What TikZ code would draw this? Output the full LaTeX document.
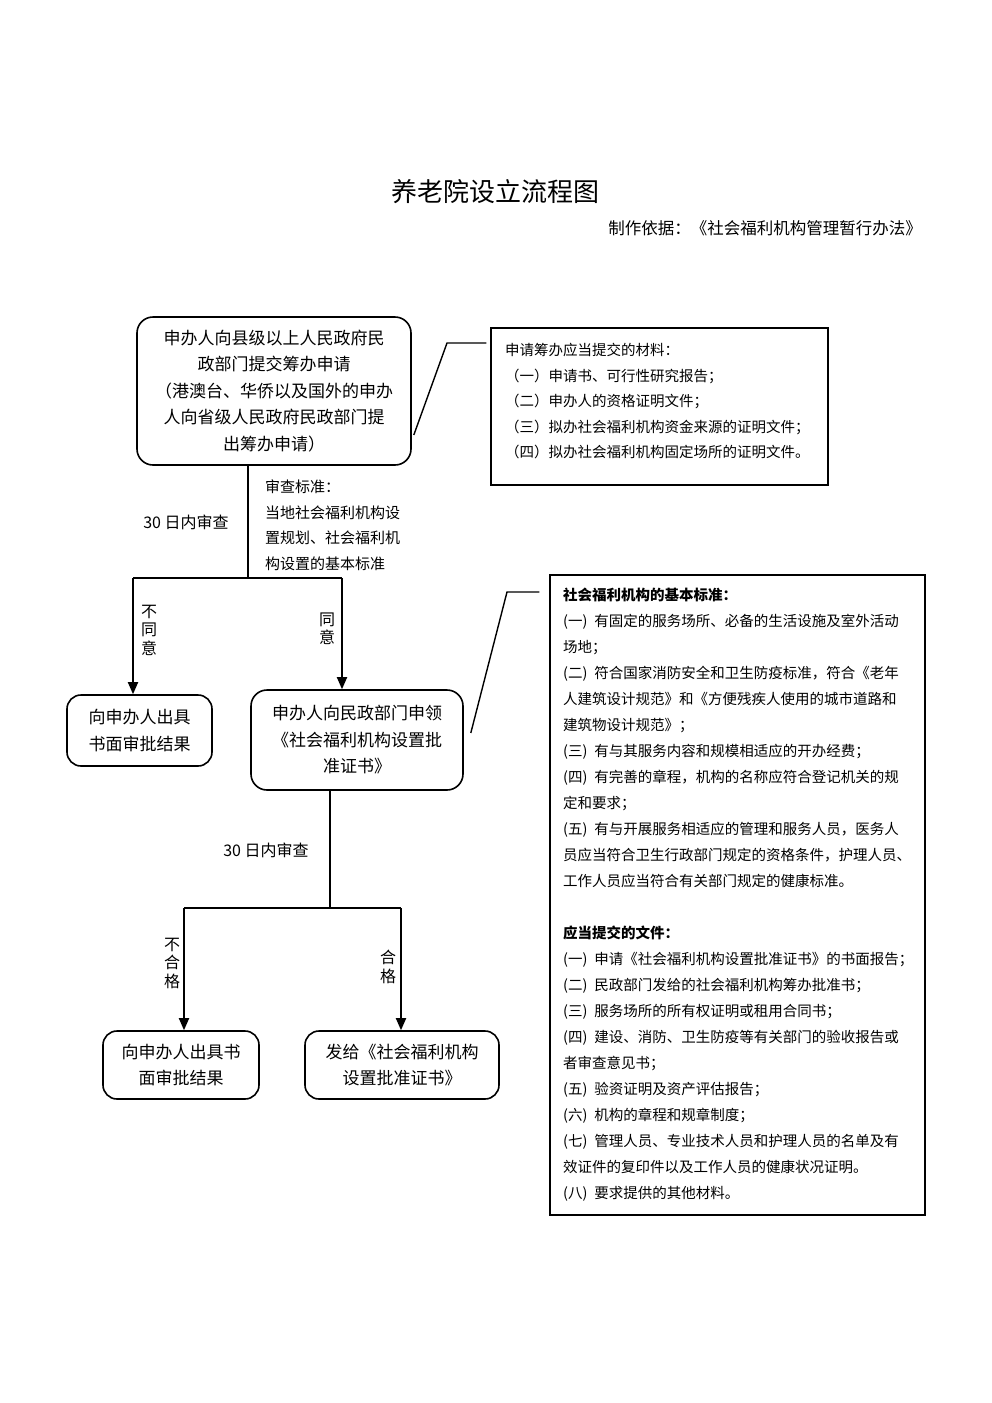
\documentclass[tikz,border=0pt]{standalone}
\usepackage{fontspec}
\setmainfont{Noto Sans CJK SC}
\usetikzlibrary{arrows.meta}
\newcommand\itm[1]{(#1)\hspace{7pt}}
\begin{document}
\begin{tikzpicture}[x=1pt,y=-1pt,
  flow/.style={line width=1.8pt},
  arr/.style={line width=1.8pt,-{Triangle[length=12pt,width=10pt]}},
  link/.style={line width=1.4pt},
  rbox/.style={draw,line width=1.6pt,rounded corners=16pt,inner sep=0pt,align=center,font=\fontsize{17}{26.5}\selectfont},
  pbox/.style={draw,line width=1.4pt,inner sep=0pt},
  txt/.style={inner sep=0pt,align=left,anchor=north west},
  vlab/.style={inner sep=0pt,align=center,font=\fontsize{16}{18.5}\selectfont},
  dlab/.style={inner sep=0pt,font=\fontsize{16}{20}\selectfont}
]
\useasboundingbox[fill=white] (0,0) rectangle (992,1403);

% title
\node[font=\fontsize{26}{30}\selectfont] (title) at (495,192) {养老院设立流程图};
\node[font=\fontsize{16.5}{20}\selectfont,anchor=east,inner sep=0pt] (sub) at (922,228) {制作依据：《社会福利机构管理暂行办法》};

% boxes
\node[rbox,minimum width=274pt,minimum height=148pt] (b1) at (274,391)
  {申办人向县级以上人民政府民\\政部门提交筹办申请\\（港澳台、华侨以及国外的申办\\人向省级人民政府民政部门提\\出筹办申请）};

\node[pbox,minimum width=337pt,minimum height=157pt] (b2) at (659.5,406.5) {};
\node[txt,font=\fontsize{14.5}{25.5}\selectfont] (t2) at (505,343)
  {申请筹办应当提交的材料：\\（一）申请书、可行性研究报告；\\（二）申办人的资格证明文件；\\（三）拟办社会福利机构资金来源的证明文件；\\（四）拟办社会福利机构固定场所的证明文件。};

\node[txt,font=\fontsize{15}{25.5}\selectfont] (std) at (265,480)
  {审查标准：\\当地社会福利机构设\\置规划、社会福利机\\构设置的基本标准};

\node[dlab] (d1) at (186,522) {30 日内审查};

\node[vlab] (lab1) at (149,630) {不\\同\\意};
\node[vlab] (lab2) at (327,629) {同\\意};

\node[rbox,minimum width=145pt,minimum height=71pt,rounded corners=14pt] (b3) at (139.5,730.5)
  {向申办人出具\\书面审批结果};
\node[rbox,minimum width=212pt,minimum height=100pt] (b4) at (357,740)
  {申办人向民政部门申领\\《社会福利机构设置批\\准证书》};

\node[pbox,minimum width=375pt,minimum height=640pt] (b5) at (737.5,895) {};
\node[txt,font=\fontsize{14.5}{26}\selectfont] (t5) at (563,588)
  {{\bfseries 社会福利机构的基本标准：}\\
   \itm{一}有固定的服务场所、必备的生活设施及室外活动\\
   场地；\\
   \itm{二}符合国家消防安全和卫生防疫标准，符合《老年\\
   人建筑设计规范》和《方便残疾人使用的城市道路和\\
   建筑物设计规范》；\\
   \itm{三}有与其服务内容和规模相适应的开办经费；\\
   \itm{四}有完善的章程，机构的名称应符合登记机关的规\\
   定和要求；\\
   \itm{五}有与开展服务相适应的管理和服务人员，医务人\\
   员应当符合卫生行政部门规定的资格条件，护理人员、\\
   工作人员应当符合有关部门规定的健康标准。\\[26pt]
   {\bfseries 应当提交的文件：}\\
   \itm{一}申请《社会福利机构设置批准证书》的书面报告；\\
   \itm{二}民政部门发给的社会福利机构筹办批准书；\\
   \itm{三}服务场所的所有权证明或租用合同书；\\
   \itm{四}建设、消防、卫生防疫等有关部门的验收报告或\\
   者审查意见书；\\
   \itm{五}验资证明及资产评估报告；\\
   \itm{六}机构的章程和规章制度；\\
   \itm{七}管理人员、专业技术人员和护理人员的名单及有\\
   效证件的复印件以及工作人员的健康状况证明。\\
   \itm{八}要求提供的其他材料。};

\node[dlab] (d2) at (266,850) {30 日内审查};

\node[vlab] (lab3) at (172,963) {不\\合\\格};
\node[vlab] (lab4) at (388,967) {合\\格};

\node[rbox,minimum width=156pt,minimum height=68pt,rounded corners=14pt] (b6) at (181,1065)
  {向申办人出具书\\面审批结果};
\node[rbox,minimum width=194pt,minimum height=68pt,rounded corners=14pt] (b7) at (402,1065)
  {发给《社会福利机构\\设置批准证书》};

% flow lines
\coordinate (j1) at (248,578);
\coordinate (l1) at (133,578);
\coordinate (r1) at (342,578);
\draw[flow] (b1.south -| j1) -- (j1);
\draw[flow] (l1) -- (r1);
\draw[arr] (l1) -- (l1 |- b3.north);
\draw[arr] (r1) -- (r1 |- b4.north);

\coordinate (j2) at (330,908);
\coordinate (l2) at (184,908);
\coordinate (r2) at (401,908);
\draw[flow] (b4.south -| j2) -- (j2);
\draw[flow] (l2) -- (r2);
\draw[arr] (l2) -- (l2 |- b6.north);
\draw[arr] (r2) -- (r2 |- b7.north);

% callout connectors
\coordinate (k1) at (447,343);
\coordinate (k2) at (507,592);
\draw[link,shorten >=4pt] ([xshift=2pt]b1.east |- 0,435) -- (k1) -- (b2.west |- k1);
\draw[link,shorten >=10pt] ([xshift=7pt]b4.east |- 0,733) -- (k2) -- (b5.west |- k2);
\end{tikzpicture}
\end{document}
